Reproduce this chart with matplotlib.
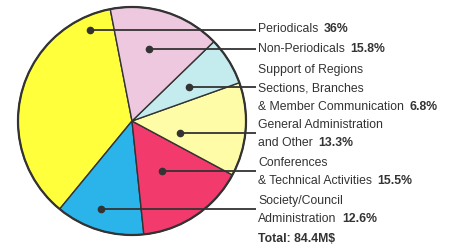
import matplotlib
matplotlib.use("Agg")
import matplotlib.pyplot as plt

labels = ["Periodicals", "Society/Council\nAdministration", "Conferences\n& Technical Activities",
          "General Administration\nand Other", "Support of Regions\nSections, Branches\n& Member Communication",
          "Non-Periodicals"]
shares = [36, 12.6, 15.5, 13.3, 6.8, 15.8]
pct_text = ["36%", "12.6%", "15.5%", "13.3%", "6.8%", "15.8%"]
colors = ["#FFFF3C", "#2AB4EA", "#F23A6C", "#FFFCA8", "#C4ECEE", "#EDC8DE"]
total_text = r"Total: 84.4M\$"

fam = "Liberation Sans"
fs = 8.8
dark = "#333333"

W, H = 451, 251
fig = plt.figure(figsize=(W / 100, H / 100), dpi=100)
ax = fig.add_axes([0, 0, 1, 1])

cx, cy, r = 132, H - 122, 114
ax.pie(shares, colors=colors, startangle=101, counterclock=True, center=(cx, cy), radius=r,
       wedgeprops=dict(edgecolor=dark, linewidth=1.0), frame=True)
ax.add_patch(plt.Circle((cx, cy), r, fill=False, edgecolor=dark, linewidth=1.6))
ax.set_xlim(0, W)
ax.set_ylim(0, H)
ax.set_aspect("equal")
ax.axis("off")

# leader dots (pixel positions) and label lines
dot_x = [90, 101, 162, 180, 189, 149]
dot_y = [31, 210, 172, 134, 88, 50]
text_y = [29, 201, 163, 125, 70, 49]  # first line of each label
line_end = 256
tx = 258
for i in range(len(shares)):
    y = H - dot_y[i]
    ax.plot([dot_x[i], line_end], [y, y], color=dark, lw=1.3, solid_capstyle="butt")
    ax.plot(dot_x[i], y, "o", color=dark, ms=4.5)
    lines = labels[i].split("\n")
    for j, ln in enumerate(lines):
        yy = H - (text_y[i] + j * 18.5)
        if j == len(lines) - 1:
            t = ax.text(tx, yy, ln, fontsize=fs, family=fam, color=dark, va="center", ha="left")
            ax.annotate(pct_text[i], xy=(1, 0.5), xycoords=t, xytext=(4, 0), textcoords="offset points",
                        fontsize=fs, family=fam, color=dark, va="center", ha="left", fontweight="bold")
        else:
            ax.text(tx, yy, ln, fontsize=fs, family=fam, color=dark, va="center", ha="left")

ax.text(tx, H - 239, total_text, fontsize=fs, family=fam, color=dark, va="center",
        ha="left", fontweight="bold")

fig.savefig("out.png", dpi=100)
